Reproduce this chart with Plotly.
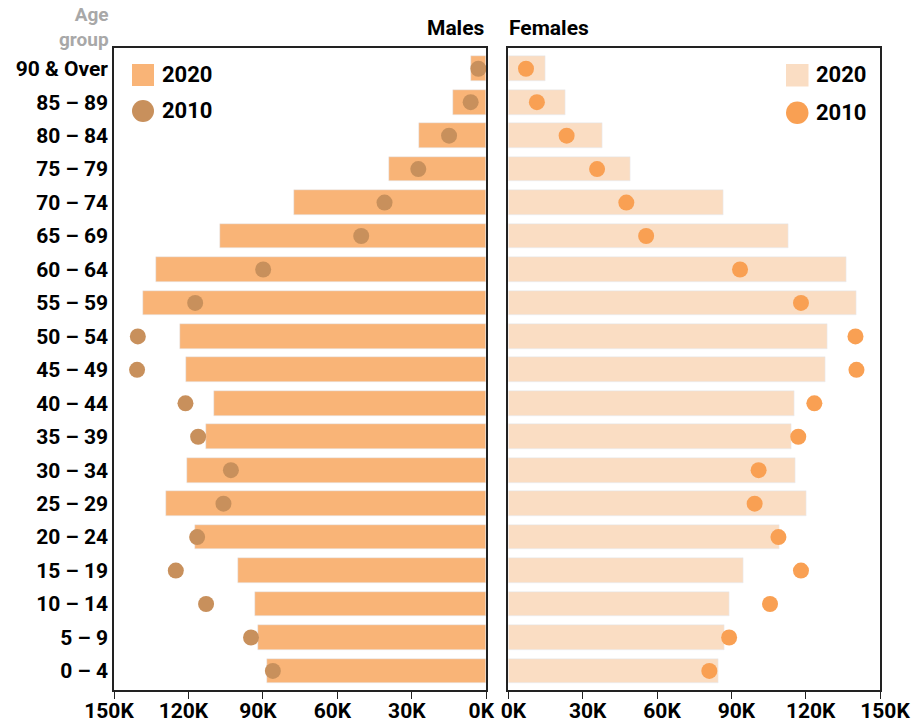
import plotly.graph_objects as go

ages = ["0 – 4", "5 – 9", "10 – 14", "15 – 19", "20 – 24", "25 – 29", "30 – 34",
        "35 – 39", "40 – 44", "45 – 49", "50 – 54", "55 – 59", "60 – 64", "65 – 69",
        "70 – 74", "75 – 79", "80 – 84", "85 – 89", "90 & Over"]

males_2020 = [88400, 92100, 93300, 100100, 117500, 129200, 120700, 113000, 109800, 121100,
              123500, 138400, 133200, 107400, 77500, 39200, 27100, 13400, 6200]
males_2010 = [86000, 94800, 112900, 125100, 116500, 105900, 102900, 116100, 121200, 140700,
              140400, 117300, 89900, 50400, 41000, 27400, 15000, 6300, 3200]
females_2020 = [84600, 87000, 89100, 94700, 109200, 120100, 115700, 114100, 115300, 127800,
                128600, 140300, 136300, 112900, 86600, 49100, 37800, 22900, 14800]
females_2010 = [81100, 89100, 105600, 118100, 109000, 99400, 101000, 117000, 123500, 140500,
                140100, 118100, 93500, 55600, 47600, 35800, 23500, 11500, 7100]

tick_vals = [0, 30000, 60000, 90000, 120000, 150000]
tick_text = ["0K", "30K", "60K", "90K", "120K", "150K"]

C_M20 = "#F9B477"
C_M10 = "#C8905C"
C_F20 = "#FADDC3"
C_F10 = "#F9A053"

W, H = 915, 723
ML, MR, MT, MB = 114, 35, 48, 33
PW, PH = W - ML - MR, H - MT - MB


def px(x):
    return (x - ML) / PW


def py(y):
    return (H - MB - y) / PH


FONT = "Roboto, 'Noto Sans', sans-serif"

fig = go.Figure()
fig.add_trace(go.Bar(y=ages, x=males_2020, orientation="h", marker_color=C_M20,
                     width=0.74, xaxis="x", yaxis="y", showlegend=False, name="Males 2020"))
fig.add_trace(go.Scatter(y=ages, x=males_2010, mode="markers",
                         marker=dict(color=C_M10, size=16, line=dict(width=0)),
                         xaxis="x", yaxis="y", showlegend=False, name="Males 2010"))
fig.add_trace(go.Bar(y=ages, x=females_2020, orientation="h", marker_color=C_F20,
                     width=0.74, xaxis="x2", yaxis="y2", showlegend=False, name="Females 2020"))
fig.add_trace(go.Scatter(y=ages, x=females_2010, mode="markers",
                         marker=dict(color=C_F10, size=16, line=dict(width=0)),
                         xaxis="x2", yaxis="y2", showlegend=False, name="Females 2010"))

axis_common = dict(showline=True, linecolor="#222", linewidth=1.5, mirror=True,
                   showgrid=False, zeroline=False, automargin=False,
                   tickfont=dict(family=FONT, size=21, color="#000", weight="bold"))

yrange = [-0.57, 18.62]

fig.update_layout(
    width=W, height=H, autosize=False,
    margin=dict(l=ML, r=MR, t=MT, b=MB, pad=0),
    paper_bgcolor="white", plot_bgcolor="white",
    showlegend=False,
    bargap=0,
    xaxis=dict(domain=[0, px(486.3)], range=[150000, 0], tickvals=tick_vals,
               ticktext=tick_text, ticks="outside", ticklen=7, tickcolor="#222",
               tickwidth=1.2, anchor="y", ticklabelstandoff=-6, ticklabelshift=5,
               **axis_common),
    xaxis2=dict(domain=[px(508.4), 1], range=[0, 150000], tickvals=tick_vals,
                ticktext=tick_text, ticks="outside", ticklen=7, tickcolor="#222",
                tickwidth=1.2, anchor="y2", ticklabelstandoff=-6, ticklabelshift=5,
                **axis_common),
    yaxis=dict(type="category", categoryorder="array", categoryarray=ages,
               range=yrange, anchor="x", ticks="", ticklabelstandoff=0, **axis_common),
    yaxis2=dict(type="category", categoryorder="array", categoryarray=ages,
                range=yrange, anchor="x2", showticklabels=False, ticks="",
                **axis_common),
)

annotations = [
    dict(text="Age<br>group", x=px(111), y=py(27), xanchor="right", yanchor="middle",
         align="right", font=dict(family=FONT, size=19, color="#A8A8A8", weight="bold")),
    dict(text="Males", x=px(487), y=py(28), xanchor="right", yanchor="middle",
         font=dict(family=FONT, size=21, color="#000", weight="bold")),
    dict(text="Females", x=px(507), y=py(28), xanchor="left", yanchor="middle",
         font=dict(family=FONT, size=21, color="#000", weight="bold")),
    dict(text="2020", x=px(160), y=py(75), xanchor="left", yanchor="middle",
         font=dict(family=FONT, size=22, color="#000", weight="bold")),
    dict(text="2010", x=px(160), y=py(111), xanchor="left", yanchor="middle",
         font=dict(family=FONT, size=22, color="#000", weight="bold")),
    dict(text="2020", x=px(814), y=py(75), xanchor="left", yanchor="middle",
         font=dict(family=FONT, size=22, color="#000", weight="bold")),
    dict(text="2010", x=px(814), y=py(112), xanchor="left", yanchor="middle",
         font=dict(family=FONT, size=22, color="#000", weight="bold")),
]
for a in annotations:
    a.update(xref="paper", yref="paper", showarrow=False)
fig.update_layout(annotations=annotations)

shapes = [
    dict(type="rect", x0=px(132), x1=px(154), y0=py(64), y1=py(86), fillcolor=C_M20, line_width=0),
    dict(type="circle", x0=px(132), x1=px(154), y0=py(100), y1=py(122), fillcolor=C_M10, line_width=0),
    dict(type="rect", x0=px(786), x1=px(808.5), y0=py(64), y1=py(86.5), fillcolor=C_F20, line_width=0),
    dict(type="circle", x0=px(786), x1=px(808.5), y0=py(101.5), y1=py(124), fillcolor=C_F10, line_width=0),
]
for s in shapes:
    s.update(xref="paper", yref="paper", layer="above")
fig.update_layout(shapes=shapes)

fig.write_html("out.html", config={"displayModeBar": False},
               post_script="document.body.style.margin='0';document.body.style.overflow='hidden';")
